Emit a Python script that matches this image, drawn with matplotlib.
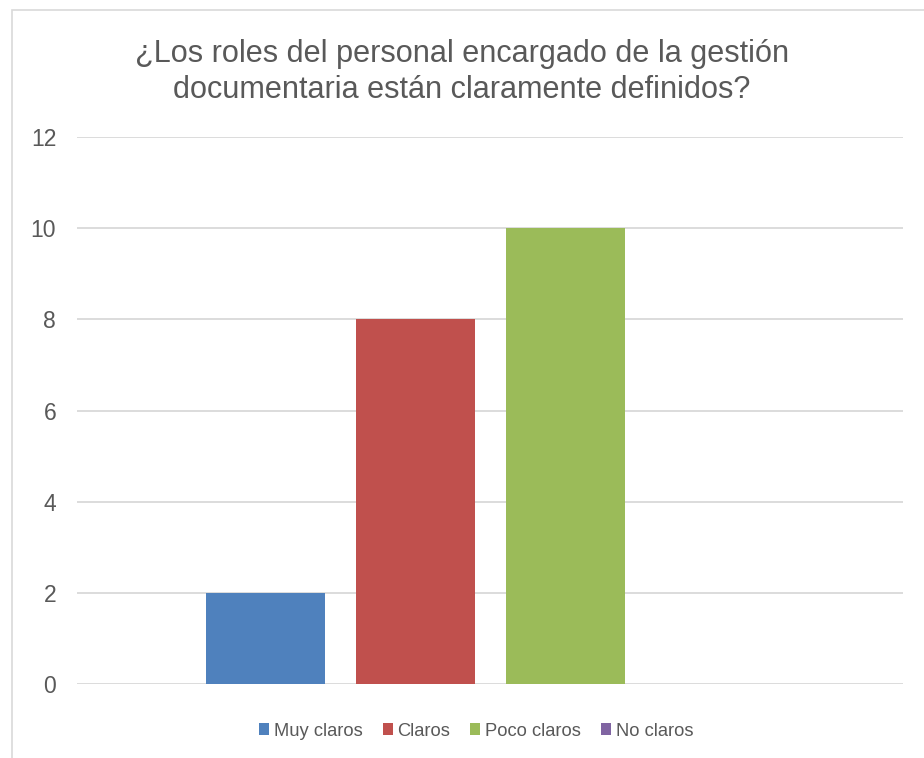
import numpy as np
import matplotlib.pyplot as plt
from matplotlib.patches import Rectangle

title = "¿Los roles del personal encargado de la gestión\ndocumentaria están claramente definidos?"
series = ["Muy claros", "Claros", "Poco claros", "No claros"]
values = [2, 8, 10, 0]
colors = ["#4F81BD", "#C0504D", "#9BBB59", "#8064A2"]
yticks = [0, 2, 4, 6, 8, 10, 12]

plt.rcParams['font.family'] = ['Liberation Sans', 'DejaVu Sans']
text_color = "#595959"

W, H = 924, 758
fig = plt.figure(figsize=(W / 100, H / 100), dpi=100)

# chart border (cut at right and bottom like the screenshot)
fig.patches.append(Rectangle((12 / W, -0.1), 1.2, 1 - 10 / H + 0.1, transform=fig.transFigure,
                             fill=False, edgecolor="#D9D9D9", linewidth=1.2))

ax = fig.add_axes([77 / W, 1 - 684 / H, (903 - 77) / W, (684 - 137) / H])

step = 150 / 826
width = 119 / 826
offsets = (np.arange(len(series)) - (len(series) - 1) / 2) * step
for off, name, val, col in zip(offsets, series, values, colors):
    ax.bar(off, val, width=width, color=col, label=name, zorder=3)

ax.set_xlim(-0.5, 0.5)
ax.set_ylim(0, 12)
ax.set_yticks(yticks)
ax.set_xticks([])
ax.yaxis.grid(True, color="#D9D9D9", linewidth=1.3)
ax.set_axisbelow(True)
for s in ax.spines.values():
    s.set_visible(False)
ax.tick_params(axis='y', length=0, pad=15, labelsize=16.5, labelcolor=text_color)

fig.text(0.5, 1 - 72 / H, title, ha='center', va='center', fontsize=22.1,
         color=text_color, linespacing=1.28)

fig.legend(loc='center', bbox_to_anchor=(476 / W, 1 - 731 / H), ncol=4, frameon=False,
           fontsize=13.2, labelcolor=text_color, handlelength=0.55, handleheight=0.55,
           handletextpad=0.25, columnspacing=1.1)

fig.savefig("out.png", dpi=100)
